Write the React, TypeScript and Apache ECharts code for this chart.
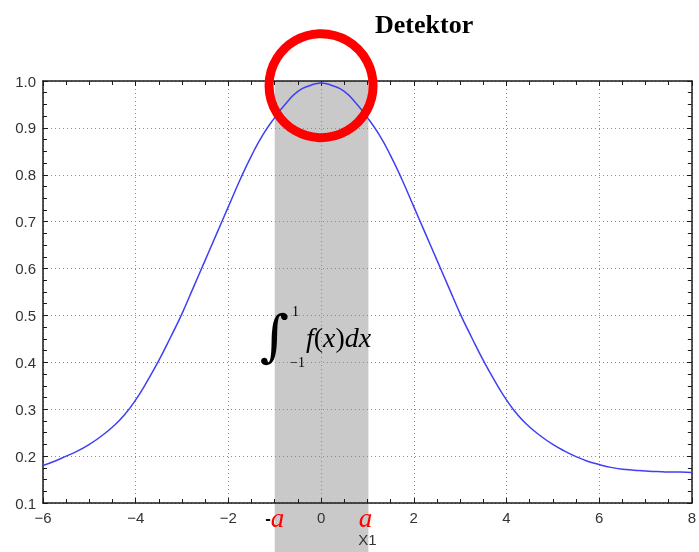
import React, { useEffect, useRef } from 'react';
import * as echarts from 'echarts';

// ---- data ----
const xValues = [
  -6, -5.75, -5.5, -5.25, -5, -4.75, -4.5, -4.25, -4, -3.75, -3.5, -3.25, -3, -2.75, -2.5, -2.25,
  -2, -1.75, -1.5, -1.25, -1, -0.75, -0.5, -0.25, 0, 0.25, 0.5, 0.75, 1, 1.25, 1.5, 1.75,
  2, 2.25, 2.5, 2.75, 3, 3.25, 3.5, 3.75, 4, 4.25, 4.5, 4.75, 5, 5.25, 5.5, 5.75,
  6, 6.25, 6.5, 6.75, 7, 7.25, 7.5, 7.75, 8,
];
const yValues = [
  0.180, 0.189, 0.200, 0.211, 0.225, 0.242, 0.262, 0.287, 0.320, 0.360, 0.404, 0.453, 0.504, 0.561, 0.618, 0.675,
  0.732, 0.789, 0.841, 0.886, 0.922, 0.953, 0.978, 0.990, 0.996, 0.990, 0.978, 0.953, 0.922, 0.886, 0.841, 0.789,
  0.732, 0.675, 0.618, 0.561, 0.504, 0.453, 0.404, 0.360, 0.320, 0.287, 0.262, 0.242, 0.225, 0.211, 0.199, 0.189,
  0.182, 0.176, 0.172, 0.170, 0.168, 0.167, 0.166, 0.166, 0.165,
];
const xRange = [-6, 8];
const yRange = [0.1, 1.0];
const xTickStep = 2;
const yTickStep = 0.1;
const shadeRange = [-1, 1];
const shadeLabels = ['-a', 'a'];
const detectorCenter = [0, 0.99];
const titleText = 'Detektor';
const xAxisName = 'X1';

const AXIS_COLOR = '#1a1a1a';
const LABEL_COLOR = '#333';
const GRID_LINE = { color: '#8c8c8c', type: [1, 3] as number[], width: 1 };

export default function App() {
  const ref = useRef<HTMLDivElement>(null);
  useEffect(() => {
    if (!ref.current) return;
    const chart = echarts.init(ref.current, undefined, { renderer: 'svg' });
    const lineData = xValues.map((x, i) => [x, yValues[i]]);

    const commonX = {
      type: 'value' as const,
      min: xRange[0],
      max: xRange[1],
      interval: xTickStep,
      axisLine: { show: true, onZero: false, lineStyle: { color: AXIS_COLOR, width: 1.5 } },
      axisTick: { show: true, inside: true, length: 5, lineStyle: { color: AXIS_COLOR } },
      minorTick: { show: true, splitNumber: 4, length: 4, lineStyle: { color: AXIS_COLOR } },
    };
    const commonY = {
      type: 'value' as const,
      min: yRange[0],
      max: yRange[1],
      interval: yTickStep,
      axisLine: { show: true, onZero: false, lineStyle: { color: AXIS_COLOR, width: 1.5 } },
      axisTick: { show: true, inside: true, length: 5, lineStyle: { color: AXIS_COLOR } },
      minorTick: { show: true, splitNumber: 4, length: 4, lineStyle: { color: AXIS_COLOR } },
    };

    chart.setOption({
      animation: false,
      title: {
        text: titleText,
        left: 375,
        top: 11,
        padding: 0,
        textStyle: { fontFamily: 'Liberation Serif', fontWeight: 'bold', fontSize: 26, color: '#000' },
      },
      grid: { left: 43, right: 4, top: 81, bottom: 44, containLabel: false },
      xAxis: [
        {
          ...commonX,
          position: 'bottom',
          name: xAxisName,
          nameLocation: 'middle',
          nameGap: 29,
          nameTextStyle: { fontFamily: 'Liberation Sans', fontSize: 15, color: LABEL_COLOR, lineHeight: 15 },
          axisLabel: {
            show: true,
            margin: 7,
            fontFamily: 'Liberation Sans',
            fontSize: 15,
            color: LABEL_COLOR,
            formatter: (v: number) => (v < 0 ? '\u2212' + Math.abs(v) : String(v)),
          },
          splitLine: { show: true, lineStyle: GRID_LINE },
        },
        {
          ...commonX,
          position: 'top',
          axisLabel: { show: false },
          splitLine: { show: false },
        },
      ],
      yAxis: [
        {
          ...commonY,
          position: 'left',
          axisLabel: {
            show: true,
            margin: 7,
            fontFamily: 'Liberation Sans',
            fontSize: 15,
            color: LABEL_COLOR,
            formatter: (v: number) => v.toFixed(1),
          },
          splitLine: { show: true, lineStyle: GRID_LINE },
        },
        {
          ...commonY,
          position: 'right',
          axisLabel: { show: false },
          splitLine: { show: false },
        },
      ],
      series: [
        {
          type: 'custom',
          z: -1,
          clip: false,
          silent: true,
          xAxisIndex: 0,
          yAxisIndex: 0,
          data: [[shadeRange[0], shadeRange[1]]],
          encode: { x: [0, 1] },
          renderItem: (params: any, api: any) => {
            const a = api.value(0);
            const b = api.value(1);
            const p0 = api.coord([a, yRange[1]]);
            const p1 = api.coord([b, yRange[0]]);
            const h = api.getHeight();
            const labelY = p1[1] + 15;
            return {
              type: 'group',
              children: [
                {
                  type: 'rect',
                  shape: { x: p0[0], y: p0[1], width: p1[0] - p0[0] + 1, height: h - p0[1] },
                  style: { fill: '#c9c9c9' },
                },
                {
                  type: 'text',
                  x: p0[0],
                  y: labelY,
                  style: {
                    text: '{m|-}{a|a}',
                    align: 'center',
                    verticalAlign: 'middle',
                    rich: {
                      m: { fontFamily: 'Liberation Sans', fontSize: 17, fontWeight: 'bold', fill: '#111', lineHeight: 14 },
                      a: { fontFamily: 'Liberation Serif', fontStyle: 'italic', fontSize: 27, fill: '#ff0000', lineHeight: 14 },
                    },
                  },
                },
                {
                  type: 'text',
                  x: p1[0] - 2,
                  y: labelY,
                  style: {
                    text: '{a|' + shadeLabels[1] + '}',
                    align: 'center',
                    verticalAlign: 'middle',
                    rich: {
                      a: { fontFamily: 'Liberation Serif', fontStyle: 'italic', fontSize: 27, fill: '#ff0000', lineHeight: 14 },
                    },
                  },
                },
              ],
            };
          },
        },
        {
          type: 'line',
          xAxisIndex: 0,
          yAxisIndex: 0,
          data: lineData,
          smooth: true,
          showSymbol: false,
          symbol: 'none',
          lineStyle: { color: '#3f3ff5', width: 1.5 },
          z: 3,
        },
        {
          type: 'scatter',
          xAxisIndex: 0,
          yAxisIndex: 0,
          data: [detectorCenter],
          symbol: 'circle',
          symbolSize: 104,
          itemStyle: { color: 'rgba(0,0,0,0)', borderColor: '#ff0000', borderWidth: 9, opacity: 1 },
          silent: true,
          z: 5,
        },
      ],
      graphic: [
        {
          type: 'text',
          x: 289,
          y: 335,
          z: 10,
          style: { text: '\u222B', fontFamily: 'DejaVu Serif', fontSize: 56, lineHeight: 56, fill: '#000', align: 'right', verticalAlign: 'middle' },
        },
        {
          type: 'text',
          x: 292,
          y: 311,
          z: 10,
          style: { text: '1', fontFamily: 'Liberation Serif', fontSize: 14, fill: '#000', align: 'left', verticalAlign: 'middle' },
        },
        {
          type: 'text',
          x: 290,
          y: 362,
          z: 10,
          style: { text: '\u22121', fontFamily: 'Liberation Serif', fontSize: 14, fill: '#000', align: 'left', verticalAlign: 'middle' },
        },
        {
          type: 'text',
          x: 306,
          y: 337,
          z: 10,
          style: {
            text: '{i|f}{u|(}{i|x}{u|)}{i|dx}',
            align: 'left',
            verticalAlign: 'middle',
            rich: {
              i: { fontFamily: 'Liberation Serif', fontStyle: 'italic', fontSize: 28, fill: '#000' },
              u: { fontFamily: 'Liberation Serif', fontSize: 28, fill: '#000' },
            },
          },
        },
      ],
    });
    return () => chart.dispose();
  }, []);
  return <div ref={ref} style={{ position: 'fixed', left: 0, top: 0, width: 699, height: 552 }} />;
}
